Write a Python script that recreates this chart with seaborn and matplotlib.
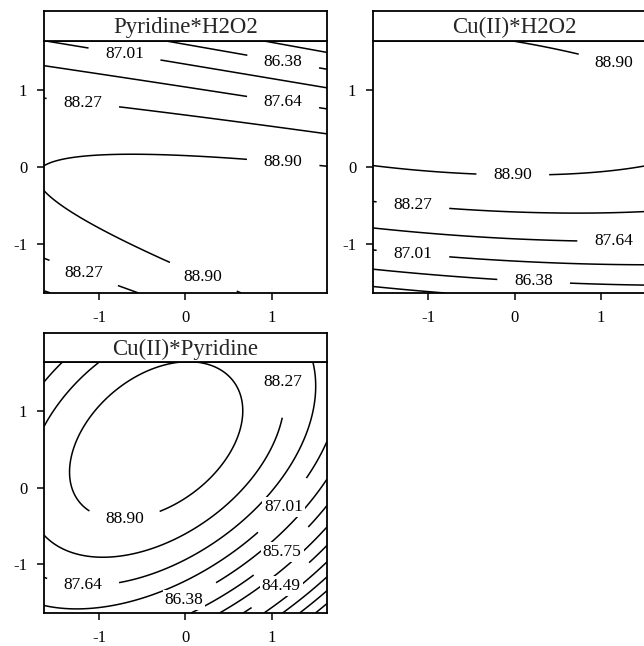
import numpy as np
import matplotlib
matplotlib.use("Agg")
import matplotlib.pyplot as plt
import seaborn as sns

sns.set_theme(style="white")
plt.rcParams['font.family'] = ['Liberation Serif', 'DejaVu Serif']
plt.rcParams['axes.unicode_minus'] = False

# contour levels of the response surface (step 0.63)
levels = [80.71, 81.34, 81.97, 82.60, 83.23, 83.86, 84.49, 85.12,
          85.75, 86.38, 87.01, 87.64, 88.27, 88.90]

# panel titles
titles = ["Pyridine*H2O2", "Cu(II)*H2O2", "Cu(II)*Pyridine"]

# response-surface coefficients:
# [b0, bx, by, bxx, byy, bxy, bxxx, bxxy, bxyy, byyy]
coef_pyridine_h2o2 = [89.0176, 0.0030, -0.7037, -0.0408, -0.5946, -0.3232, 0.0, 0.0, 0.0, 0.0]
coef_cu_h2o2 = [89.0000, -0.0028, 0.9036, -0.0464, -0.5895, -0.1169, 0.0, 0.0, 0.0, 0.0]
coef_cu_pyridine = [89.0342, -0.7050, 0.8882, -0.6178, -0.6151, 0.5040, -0.0045, 0.0109, -0.0305, 0.0151]

# coded factor range and ticks
coded_lim = 1.64
ticks = [-1, 0, 1]

# where the contour labels sit (data coords)
labels_pyridine_h2o2 = [(-0.71, 1.45), (1.13, 1.36), (-1.19, 0.84), (1.13, 0.84),
                        (1.13, 0.03), (-1.19, -1.41), (0.21, -1.42)]
labels_cu_h2o2 = [(1.15, 1.34), (-0.02, -0.11), (-1.18, -0.53), (1.15, -0.98),
                  (-1.18, -1.16), (0.22, -1.52)]
labels_cu_pyridine = [(-0.71, -0.39), (1.11, 1.38), (-1.19, -1.27), (1.13, -0.24),
                      (0.0, -1.51), (1.13, -0.86), (1.13, -1.32)]


def surface(c, x, y):
    return (c[0] + c[1]*x + c[2]*y + c[3]*x*x + c[4]*y*y + c[5]*x*y
            + c[6]*x**3 + c[7]*x*x*y + c[8]*x*y*y + c[9]*y**3)


W, H = 644, 646
fig = plt.figure(figsize=(W/100, H/100), dpi=100)
g = np.linspace(-coded_lim, coded_lim, 300)
X, Y = np.meshgrid(g, g)

# (left px, strip top px, plot top px, plot bottom px)
layout = [(44, 11, 41, 293), (373, 11, 41, 293), (44, 333, 362, 613)]
coefs = [coef_pyridine_h2o2, coef_cu_h2o2, coef_cu_pyridine]
labpos = [labels_pyridine_h2o2, labels_cu_h2o2, labels_cu_pyridine]

for title, (left, stop, ptop, pbot), c, lab in zip(titles, layout, coefs, labpos):
    wpx = 283
    ax = fig.add_axes([left/W, 1-pbot/H, wpx/W, (pbot-ptop)/H])
    sax = fig.add_axes([left/W, 1-ptop/H, wpx/W, (ptop-stop)/H])
    Z = surface(c, X, Y)
    cs = ax.contour(X, Y, Z, levels=levels, colors='black', linewidths=1.1)
    ax.clabel(cs, manual=lab, inline=True, fmt='%.2f', fontsize=12.5, inline_spacing=17)
    for t in cs.labelTexts:
        t.set_rotation(0)
        t.set_bbox(dict(facecolor='white', edgecolor='none', pad=1.5))
        t.set_zorder(5)
    ax.set_xlim(-coded_lim, coded_lim)
    ax.set_ylim(-coded_lim, coded_lim)
    ax.set_xticks(ticks)
    ax.set_yticks(ticks)
    ax.tick_params(bottom=True, left=True, direction='out', length=5, width=1.1,
                   labelsize=12, colors='black')
    ax.tick_params(axis='x', pad=7)
    ax.tick_params(axis='y', pad=7)
    for sp in ax.spines.values():
        sp.set_color('black')
        sp.set_linewidth(1.3)
        sp.set_zorder(6)
    sax.set_xticks([])
    sax.set_yticks([])
    for sp in sax.spines.values():
        sp.set_color('black')
        sp.set_linewidth(1.3)
    sax.text(0.5, 0.45, title, ha='center', va='center', fontsize=16.5,
             transform=sax.transAxes)

fig.savefig("out.png", dpi=100)
